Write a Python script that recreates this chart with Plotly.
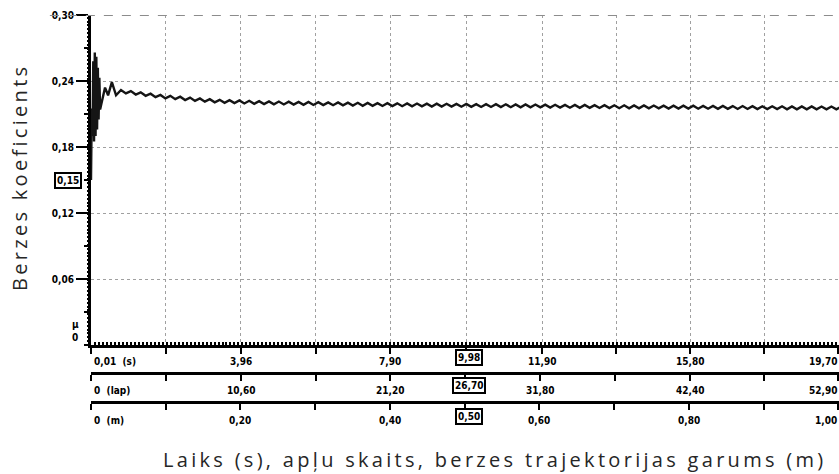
import numpy as np
import plotly.graph_objects as go

# ---------------- recorded friction coefficient ----------------
# run-in transient (time in s, friction coefficient)
t_start = [0.01, 0.03, 0.05, 0.07, 0.09, 0.11, 0.13, 0.15, 0.17, 0.19,
           0.21, 0.23, 0.25, 0.30, 0.38, 0.46, 0.56, 0.67]
mu_start = [0.150, 0.215, 0.190, 0.258, 0.185, 0.266, 0.190, 0.262, 0.196, 0.252,
            0.205, 0.243, 0.214, 0.222, 0.234, 0.227, 0.239, 0.227]

# steady sliding, logged every 0.13 s from 0.80 s
ripple_t0 = 0.80
ripple_dt = 0.13
mu_ripple = [
    0.2318, 0.2287, 0.2308, 0.2277, 0.2297, 0.2265, 0.2285, 0.2253, 0.2273, 0.2242,
    0.2265, 0.2235, 0.2257, 0.2227, 0.2249, 0.2219, 0.2241, 0.2212, 0.2235, 0.2206,
    0.2229, 0.2202, 0.2226, 0.2199, 0.2223, 0.2196, 0.2220, 0.2193, 0.2217, 0.2190,
    0.2215, 0.2188, 0.2213, 0.2187, 0.2212, 0.2186, 0.2210, 0.2184, 0.2209, 0.2182,
    0.2207, 0.2181, 0.2206, 0.2180, 0.2205, 0.2179, 0.2203, 0.2177, 0.2202, 0.2175,
    0.2200, 0.2174, 0.2199, 0.2173, 0.2198, 0.2172, 0.2197, 0.2171, 0.2196, 0.2170,
    0.2195, 0.2169, 0.2194, 0.2168, 0.2194, 0.2167, 0.2193, 0.2167, 0.2192, 0.2166,
    0.2191, 0.2165, 0.2190, 0.2164, 0.2190, 0.2164, 0.2189, 0.2163, 0.2188, 0.2162,
    0.2187, 0.2161, 0.2187, 0.2160, 0.2186, 0.2160, 0.2185, 0.2159, 0.2184, 0.2158,
    0.2183, 0.2157, 0.2183, 0.2156, 0.2182, 0.2156, 0.2181, 0.2155, 0.2180, 0.2154,
    0.2179, 0.2153, 0.2179, 0.2152, 0.2178, 0.2152, 0.2178, 0.2151, 0.2177, 0.2151,
    0.2176, 0.2150, 0.2176, 0.2149, 0.2175, 0.2149, 0.2175, 0.2148, 0.2174, 0.2148,
    0.2173, 0.2147, 0.2173, 0.2147, 0.2172, 0.2146, 0.2172, 0.2146, 0.2171, 0.2145,
    0.2170, 0.2144, 0.2170, 0.2144, 0.2170, 0.2143, 0.2169, 0.2143, 0.2169, 0.2143,
    0.2169, 0.2143, 0.2168, 0.2142, 0.2168, 0.2142, 0.2168,
]

# ---------------- axis scales ----------------
time_ticks = [0.01, 3.96, 7.90, 11.90, 15.80, 19.70]
time_labels = ["0,01  (s)", "3,96", "7,90", "11,90", "15,80", "19,70"]
lap_ticks = [0, 10.60, 21.20, 31.80, 42.40, 52.90]
lap_labels = ["0  (lap)", "10,60", "21,20", "31,80", "42,40", "52,90"]
dist_ticks = [0, 0.20, 0.40, 0.60, 0.80, 1.00]
dist_labels = ["0  (m)", "0,20", "0,40", "0,60", "0,80", "1,00"]
mu_ticks = [0, 0.06, 0.12, 0.18, 0.24, 0.30]
mu_labels = ["0", "0,06", "0,12", "0,18", "0,24", "0,30"]
mu_mid_ticks = [0.03, 0.09, 0.15, 0.21, 0.27]
mu_symbol = "μ"

# cursor read-out
cursor_time = 9.98
cursor_laps = 26.70
cursor_dist = 0.50
cursor_mu = 0.15

time_range = [0.01, 19.72]
lap_range = [0, 52.95]
dist_range = [0, 1.001]
mu_range = [0, 0.30]

t_ripple = ripple_t0 + ripple_dt * np.arange(len(mu_ripple))
t_all = list(t_start) + list(t_ripple)
mu_all = list(mu_start) + list(mu_ripple)


def midpoints(v):
    return [(a + b) / 2 for a, b in zip(v[:-1], v[1:])]


def fmt(v, nd=2):
    return f"{v:.{nd}f}".replace(".", ",")


W, H = 839, 474
ML, MR, MT, MB = 91, 0, 15, 39
plot_w = W - ML - MR
plot_h = H - MT - MB
y_bottom_px = 345
y_dom0 = (H - MB - y_bottom_px) / plot_h
row_px = [(345, 361), (373, 390), (402, 420)]   # (axis line, label row) per scale

tick_font = dict(family="DejaVu Sans Condensed", size=10, color="black", weight="bold")
title_font = dict(family="Open Sans", size=20, color="#262626")


def px_to_py(p):
    return (H - MB - p) / plot_h


def px_to_px(p):
    return (p - ML) / plot_w


fig = go.Figure()
fig.add_trace(go.Scatter(x=t_all, y=mu_all, mode="lines",
                         line=dict(color="#151515", width=2.4), showlegend=False,
                         hoverinfo="skip"))

common_x = dict(showline=True, linecolor="black", linewidth=2.5,
                ticks="outside", tickcolor="black", tickwidth=2, ticklen=6,
                zeroline=False, automargin=False, showticklabels=False,
                tickmode="array", fixedrange=True, showgrid=False)

scales = [
    ("x", time_ticks, time_labels, time_range),
    ("x2", lap_ticks, lap_labels, lap_range),
    ("x3", dist_ticks, dist_labels, dist_range),
]

layout_axes = {}
for i, (name, ticks, labels, rng) in enumerate(scales):
    key = "xaxis" if name == "x" else "xaxis" + name[1:]
    ax = dict(**common_x, range=rng, tickvals=ticks + midpoints(ticks))
    if name == "x":
        ax.update(anchor="y", domain=[0, 1], showgrid=True, gridcolor="#a0a0a0",
                  griddash="dot", gridwidth=1.2)
    else:
        ax.update(overlaying="x", anchor="free", side="bottom",
                  position=px_to_py(row_px[i][0]))
    layout_axes[key] = ax

# fine ruler divisions along the time scale
layout_axes["xaxis4"] = dict(range=time_range, overlaying="x", anchor="y", side="bottom",
                             showline=False, ticks="inside", tickcolor="black",
                             tickwidth=2, ticklen=3, tickmode="linear",
                             tick0=time_range[0], dtick=0.105, showticklabels=False,
                             showgrid=False, zeroline=False, automargin=False,
                             fixedrange=True)

fig.update_layout(
    width=W, height=H,
    margin=dict(l=ML, r=MR, t=MT, b=MB, autoexpand=False),
    paper_bgcolor="white", plot_bgcolor="white",
    yaxis=dict(range=mu_range, domain=[y_dom0, 1], anchor="x",
               showline=True, linecolor="black", linewidth=3,
               ticks="outside", tickcolor="black", tickwidth=2, ticklen=12,
               tickmode="array", tickvals=mu_ticks[1:], ticktext=mu_labels[1:],
               tickfont=tick_font, zeroline=False, automargin=False,
               showgrid=True, gridcolor="#a0a0a0", griddash="dot", gridwidth=1.2,
               fixedrange=True),
    # medium ticks half way between the labelled ones
    yaxis2=dict(range=mu_range, domain=[y_dom0, 1], overlaying="y", anchor="x",
                side="left", showline=False, ticks="outside", tickcolor="black",
                tickwidth=2, ticklen=6, tickmode="array",
                tickvals=[mu_range[0]] + mu_mid_ticks,
                ticktext=[""] * (len(mu_mid_ticks) + 1), showgrid=False,
                zeroline=False, automargin=False, fixedrange=True),
    # fine ruler divisions along the vertical scale
    yaxis3=dict(range=mu_range, domain=[y_dom0, 1], overlaying="y", anchor="x",
                side="left", showline=False, ticks="outside", tickcolor="black",
                tickwidth=1.5, ticklen=3, tickmode="linear", tick0=0, dtick=0.0035,
                showticklabels=False, showgrid=False, zeroline=False,
                automargin=False, fixedrange=True),
    **layout_axes,
)

# helper traces so the extra axes are drawn
for xa, ya, x0 in [("x2", "y", lap_ticks[0]), ("x3", "y", dist_ticks[0]),
                   ("x4", "y", time_ticks[0]),
                   ("x", "y2", time_ticks[0]), ("x", "y3", time_ticks[0])]:
    fig.add_trace(go.Scatter(x=[x0], y=[mu_range[0]], xaxis=xa, yaxis=ya,
                             mode="markers", marker=dict(opacity=0),
                             showlegend=False, hoverinfo="skip"))

# top border of the recorder window
fig.add_shape(type="line", xref="paper", yref="y", x0=-0.055, x1=1,
              y0=mu_range[1], y1=mu_range[1],
              line=dict(color="#8c8c8c", width=2, dash="dash"))

# tick labels of the three horizontal scales
for i, (name, ticks, labels, rng) in enumerate(scales):
    ylab = px_to_py(row_px[i][1])
    for j, (v, lab) in enumerate(zip(ticks, labels)):
        if j == 0:
            fig.add_annotation(text=lab, xref="paper", yref="paper", x=0.002, y=ylab,
                               xanchor="left", yanchor="middle", showarrow=False,
                               font=tick_font)
        elif j == len(ticks) - 1:
            fig.add_annotation(text=lab, xref="paper", yref="paper", x=1.0, y=ylab,
                               xanchor="right", yanchor="middle", showarrow=False,
                               font=tick_font)
        else:
            fig.add_annotation(text=lab, xref=name, yref="paper", x=v, y=ylab,
                               xanchor="center", yanchor="middle", showarrow=False,
                               font=tick_font)

# mu symbol and zero on the vertical scale
fig.add_annotation(text=mu_symbol, xref="paper", yref="paper", x=px_to_px(75),
                   y=px_to_py(324), xanchor="center", yanchor="middle",
                   showarrow=False, font=tick_font)
fig.add_annotation(text=mu_labels[0], xref="paper", yref="paper", x=px_to_px(75),
                   y=px_to_py(337), xanchor="center", yanchor="middle",
                   showarrow=False, font=tick_font)

# boxed cursor values
box = dict(showarrow=False, font=tick_font, bordercolor="black", borderwidth=2,
           borderpad=1, bgcolor="white", xanchor="center", yanchor="middle")
fig.add_annotation(text=fmt(cursor_time), xref="x", yref="paper", x=cursor_time,
                   y=px_to_py(357), **box)
fig.add_annotation(text=fmt(cursor_laps), xref="x", yref="paper", x=cursor_time,
                   y=px_to_py(385), **box)
fig.add_annotation(text=fmt(cursor_dist), xref="x", yref="paper", x=cursor_time,
                   y=px_to_py(416), **box)
fig.add_annotation(text=fmt(cursor_mu), xref="paper", yref="y", x=px_to_px(68),
                   y=cursor_mu, **box)

# axis titles
spaced = '<span style="letter-spacing:3.3px">{}</span>'
fig.add_annotation(text=spaced.format("Laiks (s), apļu skaits, berzes trajektorijas garums (m)"),
                   xref="paper", yref="paper", x=px_to_px(495), y=px_to_py(459),
                   xanchor="center", yanchor="middle", showarrow=False, font=title_font)
fig.add_annotation(text=spaced.format("Berzes koeficients"), xref="paper", yref="paper",
                   x=px_to_px(20), y=px_to_py(178), textangle=-90,
                   xanchor="center", yanchor="middle", showarrow=False, font=title_font)

fig.write_html("out.html")
